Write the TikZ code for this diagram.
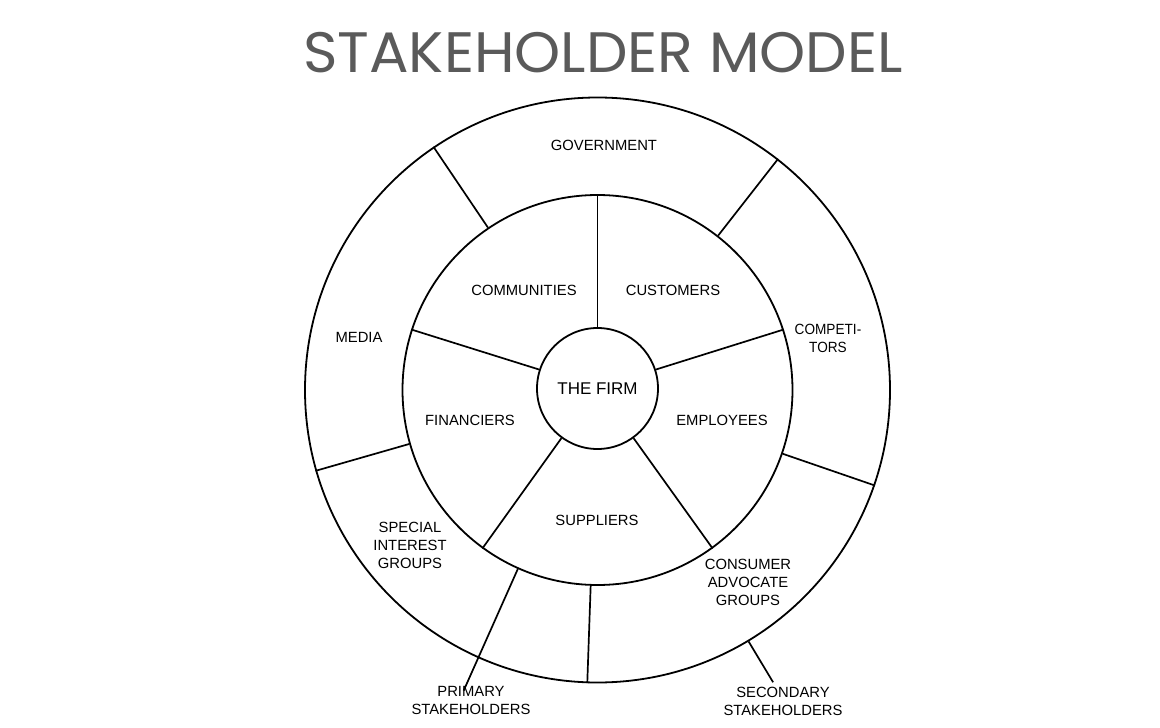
\documentclass[tikz,border=0pt]{standalone}
\usepackage{fontspec}
\setmainfont{Liberation Sans}
\newfontfamily\titlefont{Poppins}
\usetikzlibrary{calc}
\definecolor{titlegray}{HTML}{5A5A5A}
\begin{document}
\begin{tikzpicture}[x=1pt,y=1pt, line width=1.7pt, line join=round,
  lbl/.style={font=\fontsize{14.8}{18}\selectfont, align=center, inner sep=0pt},
  ring/.style={circle, draw, inner sep=0pt, line width=1.8pt}]
\useasboundingbox[fill=white] (0,-728) rectangle (1160,0);
\coordinate (c) at (597.5,-390);
\node[font=\titlefont\fontsize{57}{60}\selectfont, text=titlegray, inner sep=0pt, xscale=1.03] (title) at (603,-53) {STAKEHOLDER MODEL};
\node[ring, minimum size=585pt] (outer) at (c) {};
\node[ring, minimum size=390pt] (mid) at (c) {};
\node[ring, minimum size=121pt, font=\fontsize{17}{20}\selectfont] (firm) at (597.5,-388.5) {THE FIRM};
\foreach \a in {90,162,234,306,18} \draw (firm.\a) -- (mid.\a);
\foreach \a in {124,52,196,341,268} \draw (mid.\a) -- (outer.\a);
\coordinate (pend) at ($(c)+(246:329)$);
\draw (mid.246) -- (pend);
\coordinate (send) at ($(c)+(301:341)$);
\draw (outer.301) -- (send);
\node[lbl] (gov) at (604,-145) {GOVERNMENT};
\node[lbl] (comm) at (524,-290) {COMMUNITIES};
\node[lbl] (cust) at (673,-290) {CUSTOMERS};
\node[lbl] (media) at (359,-337) {MEDIA};
\node[lbl, xscale=0.92] (comp) at (828,-338) {COMPETI-\\TORS};
\node[lbl] (fin) at (470,-420) {FINANCIERS};
\node[lbl] (emp) at (722,-420) {EMPLOYEES};
\node[lbl] (sup) at (597,-520) {SUPPLIERS};
\node[lbl] (sig) at (410,-545) {SPECIAL\\INTEREST\\GROUPS};
\node[lbl] (cag) at (748,-582) {CONSUMER\\ADVOCATE\\GROUPS};
\node[lbl] (prim) at (471,-700) {PRIMARY\\STAKEHOLDERS};
\node[lbl] (sec) at (783,-701) {SECONDARY\\STAKEHOLDERS};
\end{tikzpicture}
\end{document}
